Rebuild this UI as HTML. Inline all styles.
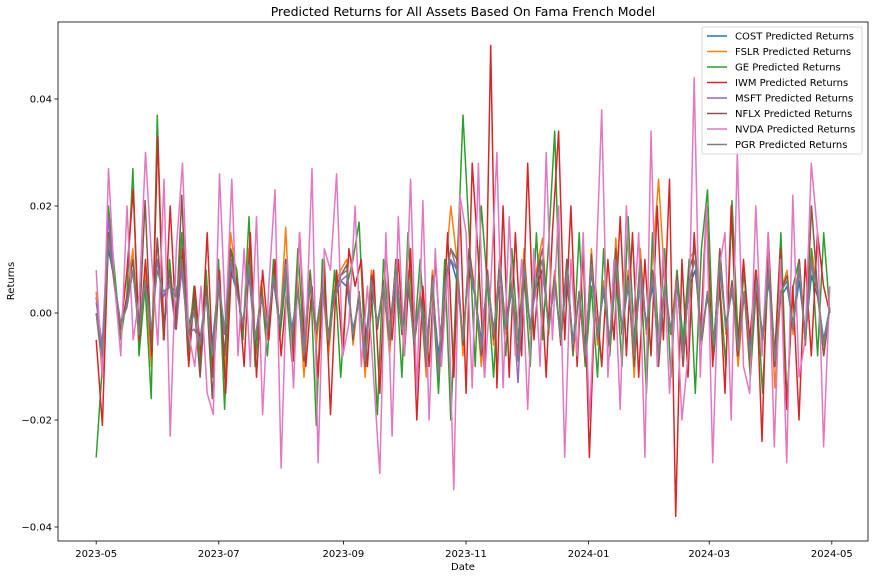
<!DOCTYPE html>
<html><head><meta charset="utf-8">
<style>
body{margin:0;background:#fff;font-family:"Liberation Sans","DejaVu Sans",sans-serif;}
svg text{font-family:"DejaVu Sans","Liberation Sans",sans-serif;}
</style></head>
<body>
<svg id="chart" width="881" height="573" viewBox="0 0 881 573" xmlns="http://www.w3.org/2000/svg">
<rect width="881" height="573" fill="#fff"/>
<text x="463" y="16" font-size="12.5" text-anchor="middle" fill="#000">Predicted Returns for All Assets Based On Fama French Model</text>
<text x="463" y="570" font-size="10" text-anchor="middle" fill="#000">Date</text>
<text transform="translate(14,281) rotate(-90)" font-size="10" text-anchor="middle" fill="#000">Returns</text>
<g id="ticks"></g>
<g id="lines"></g>
<rect x="58" y="22" width="810" height="519" fill="none" stroke="#000" stroke-width="0.8"/>
<g id="legend"></g>
</svg>
<script>
const seriesNames=["COST","FSLR","GE","IWM","MSFT","NFLX","NVDA","PGR"];
const seriesColors=["#1f77b4","#ff7f0e","#2ca02c","#d62728","#9467bd","#8c564b","#e377c2","#7f7f7f"];
const startDate="2023-05-01";
const endDate="2024-04-30";
const yTicks=[-0.04,-0.02,0.00,0.02,0.04];
const yTickLabels=["\u22120.04","\u22120.02","0.00","0.02","0.04"];
const xTicks=["2023-05-01","2023-07-01","2023-09-01","2023-11-01","2024-01-01","2024-03-01","2024-05-01"];
const xTickLabels=["2023-05","2023-07","2023-09","2023-11","2024-01","2024-03","2024-05"];
// values in units of 0.001
const cost=[3,-8,12,6,-2,1,8,-3,5,-4,10,3,5,4,8,-3,2,-5,4,-6,6,-4,8,4,-2,7,-5,3,-3,6,-2,7,-3,4,-6,5,-3,4,-4,3,6,5,-3,2,-6,5,-2,4,-5,6,-3,5,-4,3,-6,5,-8,4,10,6,-4,8,3,-5,6,-3,5,-2,4,-5,6,-2,5,8,-2,5,-4,6,-5,3,-6,8,-4,4,-5,7,-3,5,-6,6,-2,5,-5,4,-3,5,-6,5,8,-4,3,-5,8,-2,4,-5,3,-6,5,-4,6,-7,3,5,-2,6,-4,7,3,-5,1];
const fslr=[4,-12,18,6,-4,3,12,-6,8,-10,14,-4,8,-2,10,-6,4,-8,6,-10,8,-12,15,6,-4,12,-8,6,-5,8,-4,16,-8,6,-12,8,-6,6,-8,5,8,10,-6,4,-12,8,-3,6,-8,10,-4,8,-6,4,-12,8,-14,6,20,10,-8,12,4,-10,8,-6,10,-4,6,-8,12,-4,8,14,-4,8,-6,10,-8,4,-10,12,-6,6,-8,14,-4,8,-12,12,-4,10,25,6,-4,8,-10,10,12,-6,4,-8,12,-4,6,-10,4,-12,8,-6,12,-14,4,8,-4,10,-6,12,4,-8,1];
const ge=[-27,-10,20,8,-5,3,27,-8,5,-16,37,-5,10,-3,15,-8,5,-10,8,-12,10,-18,12,8,-5,18,-10,5,-8,10,-5,6,-9,12,-6,8,-21,10,-5,8,-12,5,10,17,-8,5,-19,10,-3,8,-12,15,-5,10,-8,5,-15,10,-20,8,37,15,-10,20,5,-12,10,-8,12,-5,8,-10,15,-5,13,34,-5,10,-8,15,-10,5,-12,12,-8,8,-10,18,-5,10,-15,15,-5,12,-12,8,-5,10,-15,12,23,-8,5,-10,21,-5,8,-12,5,-15,10,-8,15,-17,5,10,-5,12,-8,15,0];
const iwm=[-5,-21,15,5,-3,8,23,-5,10,-8,33,-5,20,-3,12,-10,5,-8,15,-12,8,-15,10,5,-10,15,-12,8,-5,10,-8,6,-9,15,-10,5,-12,10,-19,8,-8,12,5,10,-10,8,-15,12,-5,10,-8,12,-20,5,-10,10,-8,15,-12,20,-15,28,10,-12,50,-14,20,-12,15,-8,28,-5,10,-12,15,34,-5,20,-10,12,-27,5,-10,10,-5,18,-8,15,-12,10,-8,20,-5,25,-38,10,-12,15,-5,20,-10,8,-15,20,-8,10,-5,8,-24,15,-10,12,-18,5,-20,10,-8,15,5,0];
const msft=[2,-6,18,5,-3,2,8,-2,6,-4,10,3,6,-3,8,-4,-3,-5,3,-8,5,-4,9,4,-2,8,-5,3,-3,6,-2,8,-4,4,-6,6,-3,5,-5,4,6,7,-4,3,-8,6,-2,5,-5,8,-3,6,-5,3,-8,6,-10,5,10,8,-5,10,3,-6,7,-4,8,-3,5,-13,9,-3,6,10,-3,6,-5,8,-6,4,-8,10,-5,5,-6,10,-3,6,-8,8,-3,7,-7,5,-4,6,-8,6,10,-5,4,-6,10,-3,5,-7,4,-8,6,-5,8,-9,4,6,-3,8,-5,9,4,-6,1];
const nflx=[0,-10,15,5,-3,3,10,-4,21,-6,14,-3,8,-3,22,-6,2,-12,5,-16,7,-8,12,5,-3,10,-6,4,-4,7,-3,10,-5,5,-9,7,-4,6,-6,4,7,9,-5,4,-10,7,-3,6,-6,10,-4,7,-6,3,-10,7,-12,5,12,10,-6,12,3,-8,8,-5,10,-3,6,-8,10,-3,7,12,-3,7,-6,10,-7,4,-9,11,-5,5,-7,12,-4,7,-10,10,-3,8,-10,6,-4,7,-10,8,12,-6,4,-7,12,-3,6,-8,4,-10,7,-5,10,-10,4,7,-3,10,-6,20,4,-8,1];
const nvda=[8,-12,27,5,-8,20,-5,3,30,10,-6,25,-23,12,28,-4,-10,5,-15,-19,26,-2,25,-8,12,-10,18,-19,5,23,-29,10,-14,15,-5,27,-28,12,8,26,-8,-2,20,-10,5,-12,-30,15,-23,18,-8,25,-15,21,-20,12,-10,8,-33,22,15,-14,28,-12,5,30,-14,18,-8,10,-18,12,-10,30,-5,20,-27,10,-8,15,-20,5,38,-12,10,-18,20,-5,15,-27,34,-10,12,-15,5,-20,-8,44,-12,20,-28,8,15,-20,30,-10,-15,20,-8,15,-25,10,-28,22,-12,-5,28,15,-25,5];
const pgr=[0,-8,14,6,-2,1,8,-4,6,-3,8,4,5,3,10,-4,0,-6,3,-8,6,-3,10,4,-2,9,-5,3,-3,7,-2,9,-4,4,-8,6,-3,5,-5,3,7,8,-4,3,-9,6,-2,5,-5,9,-3,6,-5,3,-9,6,-12,5,12,8,-5,10,3,-7,7,-4,8,-3,5,-9,9,-3,6,10,-3,6,-5,8,-6,4,-8,9,-5,5,-6,10,-3,6,-8,9,-3,7,-8,5,-4,6,-8,6,10,-5,4,-6,10,-3,5,-7,4,-8,6,-5,8,-9,4,6,-3,9,-5,10,4,-6,1];
const seriesValues=[cost,fslr,ge,iwm,msft,nflx,nvda,pgr];

const NS="http://www.w3.org/2000/svg";
const PL=58,PR=868,PT=22,PB=541;
const t0=Date.parse("2023-04-12"),t1=Date.parse("2024-05-19");
function xScale(t){return PL+(t-t0)/(t1-t0)*(PR-PL);}
function yScale(v){return 313-v*5350;}
const ts=Date.parse(startDate),te=Date.parse(endDate);

const tg=document.getElementById('ticks');
yTicks.forEach((v,i)=>{
  const y=yScale(v);
  const l=document.createElementNS(NS,'line');
  
  
  l.setAttribute('x1',PL-3.5);l.setAttribute('x2',PL);l.setAttribute('y1',y);l.setAttribute('y2',y);l.setAttribute('stroke','#000');l.setAttribute('stroke-width','0.8');
  tg.appendChild(l);
  const t=document.createElementNS(NS,'text');
  
  
  t.setAttribute('x',PL-6);t.setAttribute('y',y+3.5);t.setAttribute('font-size','10');t.setAttribute('text-anchor','end');
  t.textContent=yTickLabels[i];tg.appendChild(t);
});
xTicks.forEach((d,i)=>{
  const x=xScale(Date.parse(d));
  const l=document.createElementNS(NS,'line');
  
  
  l.setAttribute('x1',x);l.setAttribute('x2',x);l.setAttribute('y1',PB);l.setAttribute('y2',PB+3.5);l.setAttribute('stroke','#000');l.setAttribute('stroke-width','0.8');
  tg.appendChild(l);
  const t=document.createElementNS(NS,'text');
  
  
  t.setAttribute('x',x);t.setAttribute('y',PB+16);t.setAttribute('font-size','10');t.setAttribute('text-anchor','middle');
  t.textContent=xTickLabels[i];tg.appendChild(t);
});

const lg=document.getElementById('lines');
seriesValues.forEach((arr,s)=>{
  const n=arr.length;
  const pts=arr.map((v,i)=>xScale(ts+(te-ts)*i/(n-1)).toFixed(1)+','+yScale(v/1000).toFixed(1)).join(' ');
  const p=document.createElementNS(NS,'polyline');
  
  
  p.setAttribute('points',pts);p.setAttribute('fill','none');p.setAttribute('stroke',seriesColors[s]);p.setAttribute('stroke-width','1.5');p.setAttribute('stroke-linejoin','round');
  lg.appendChild(p);
});

const leg=document.getElementById('legend');
const box=document.createElementNS(NS,'rect');


box.setAttribute('x',702);box.setAttribute('y',27);box.setAttribute('width',160);box.setAttribute('height',127);box.setAttribute('rx',2);
box.setAttribute('fill','#fff');box.setAttribute('fill-opacity','0.8');box.setAttribute('stroke','#ccc');box.setAttribute('stroke-width','0.8');
leg.appendChild(box);
seriesNames.forEach((nm,i)=>{
  const y=36+i*15.5;
  const l=document.createElementNS(NS,'line');
  
  
  l.setAttribute('x1',707);l.setAttribute('x2',727);l.setAttribute('y1',y);l.setAttribute('y2',y);l.setAttribute('stroke',seriesColors[i]);l.setAttribute('stroke-width','1.5');
  leg.appendChild(l);
  const t=document.createElementNS(NS,'text');
  
  
  t.setAttribute('x',735);t.setAttribute('y',y+3.5);t.setAttribute('font-size','10');
  t.textContent=nm+' Predicted Returns';leg.appendChild(t);
});
</script>
</body></html>
